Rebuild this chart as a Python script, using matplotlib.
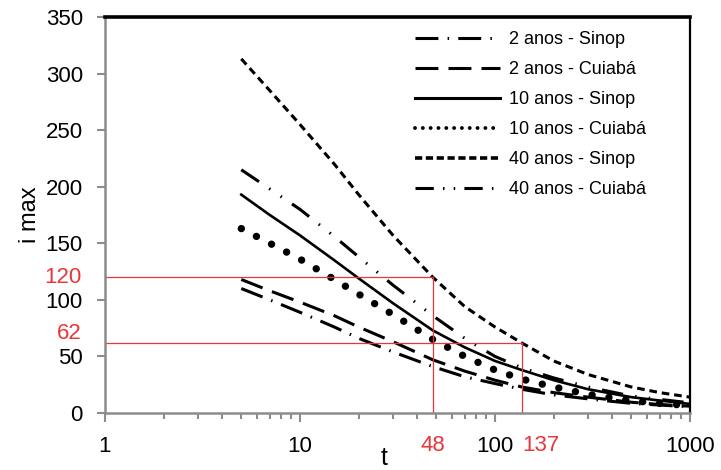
import matplotlib
matplotlib.use("Agg")
from matplotlib import pyplot as plt
from matplotlib.lines import Line2D
from matplotlib.ticker import NullFormatter, LogLocator
import matplotlib.transforms as mtransforms

plt.rcParams['font.family'] = ['Liberation Sans', 'DejaVu Sans']

# duration t (min)
t = [5, 7, 10, 15, 20, 30, 48, 70, 100, 137, 200, 300, 500, 700, 1000]

sinop_2 = [110, 100, 89, 76, 66, 54, 41, 32, 26, 21, 16, 12.5, 8.5, 7, 5.5]
cuiaba_2 = [118, 108, 98, 86, 76, 63, 47, 37, 29, 23, 18, 14, 9.5, 7.5, 6]
sinop_10 = [193, 175, 157, 135, 119, 97, 73, 58, 46, 38, 29, 21, 14, 11, 8]
cuiaba_10 = [163, 150, 136, 118, 105, 87, 65, 50, 38, 30, 23, 16.5, 11, 8.5, 6.5]
sinop_40 = [313, 285, 255, 220, 193, 157, 120, 94, 76, 62, 46, 34, 23, 18, 14]
cuiaba_40 = [215, 198, 180, 156, 138, 113, 86, 66, 50, 40, 31, 23, 15, 12, 9]

labels = ['2 anos - Sinop', '2 anos - Cuiabá', '10 anos - Sinop',
          '10 anos - Cuiabá', '40 anos - Sinop', '40 anos - Cuiabá']

# reference marks (red)
ref_t = [48, 137]
ref_i = [120, 62]

RED = '#e8363c'
GRAY = '#8c8c8c'

fig = plt.figure(figsize=(7.21, 4.70), dpi=100)
ax = fig.add_axes([0.1456, 0.1213, 0.8114, 0.8425])

ax.plot(t, sinop_2, color='black', lw=2.2, linestyle=(0, (7.5, 3, 0.5, 3)))
ax.plot(t, cuiaba_2, color='black', lw=2.2, linestyle=(0, (7.5, 3.3)))
ax.plot(t, sinop_10, color='black', lw=1.9, linestyle='-')
ax.plot(t, cuiaba_10, color='black', lw=5.3, linestyle=(0, (0.01, 2.3)),
        dash_capstyle='round')
ax.plot(t, sinop_40, color='black', lw=2.2, linestyle=(0, (2.5, 1.6)))
ax.plot(t, cuiaba_40, color='black', lw=2.2,
        linestyle=(0, (7, 4, 0.5, 4, 0.5, 4)))

# red guide lines
for tt, ii in zip(ref_t, ref_i):
    ax.plot([1, tt], [ii, ii], color=RED, lw=0.9)
    ax.plot([tt, tt], [0, ii], color=RED, lw=0.9)

ax.set_xscale('log')
ax.set_xlim(1, 1000)
ax.set_ylim(0, 350)

ax.set_xticks([1, 10, 100, 1000])
ax.set_xticklabels(['1', '10', '100', '1000'])
ax.xaxis.set_minor_locator(LogLocator(base=10, subs=range(2, 10)))
ax.xaxis.set_minor_formatter(NullFormatter())
ax.set_yticks(range(0, 351, 50))

ax.tick_params(axis='y', which='major', direction='out', length=6,
               width=1.5, color=GRAY, labelsize=16, pad=10)
ax.tick_params(axis='x', which='major', direction='out', length=6.5,
               width=1.5, color=GRAY, labelsize=16, pad=10)
ax.tick_params(axis='x', which='minor', direction='out', length=4.3,
               width=1.5, color=GRAY)

for side in ['left', 'bottom']:
    ax.spines[side].set_color(GRAY)
    ax.spines[side].set_linewidth(1.8)
ax.spines['top'].set_color('black')
ax.spines['top'].set_linewidth(2.6)
ax.spines['right'].set_color('black')
ax.spines['right'].set_linewidth(1.6)

# red labels
ytrans = mtransforms.blended_transform_factory(ax.transAxes, ax.transData)
ax.text(-0.0395, 120, '120', color=RED, fontsize=16, ha='right', va='center',
        transform=ytrans)
ax.text(-0.0395, 70, '62', color=RED, fontsize=16, ha='right', va='center',
        transform=ytrans)
xtrans = mtransforms.blended_transform_factory(ax.transData, ax.transAxes)
ax.text(48, -0.055, '48', color=RED, fontsize=16, ha='center', va='top',
        transform=xtrans)
ax.text(172, -0.055, '137', color=RED, fontsize=16, ha='center', va='top',
        transform=xtrans)

ax.set_ylabel('i max', fontsize=17, labelpad=3)
fig.text(384 / 721, 1 - 465 / 470, 't', fontsize=18, ha='center',
         va='baseline')

handles = [
    Line2D([], [], color='black', lw=2.2, linestyle=(0, (7.5, 3, 0.5, 3))),
    Line2D([], [], color='black', lw=2.2, linestyle=(0, (7.5, 3.3))),
    Line2D([], [], color='black', lw=2.2, linestyle='-'),
    Line2D([], [], color='black', lw=2.8, linestyle=(0, (0.01, 2.0)),
           dash_capstyle='round'),
    Line2D([], [], color='black', lw=2.6, linestyle=(0, (2.0, 1.0))),
    Line2D([], [], color='black', lw=2.2, linestyle=(0, (6, 3, 0.5, 3, 0.5, 3))),
]
ax.legend(handles, labels, loc='upper left', bbox_to_anchor=(0.53, 0.965),
          frameon=False, fontsize=13, handlelength=4.7, handletextpad=0.5,
          labelspacing=0.72, borderaxespad=0, borderpad=0)

fig.savefig('out.png', dpi=100, facecolor='white')
